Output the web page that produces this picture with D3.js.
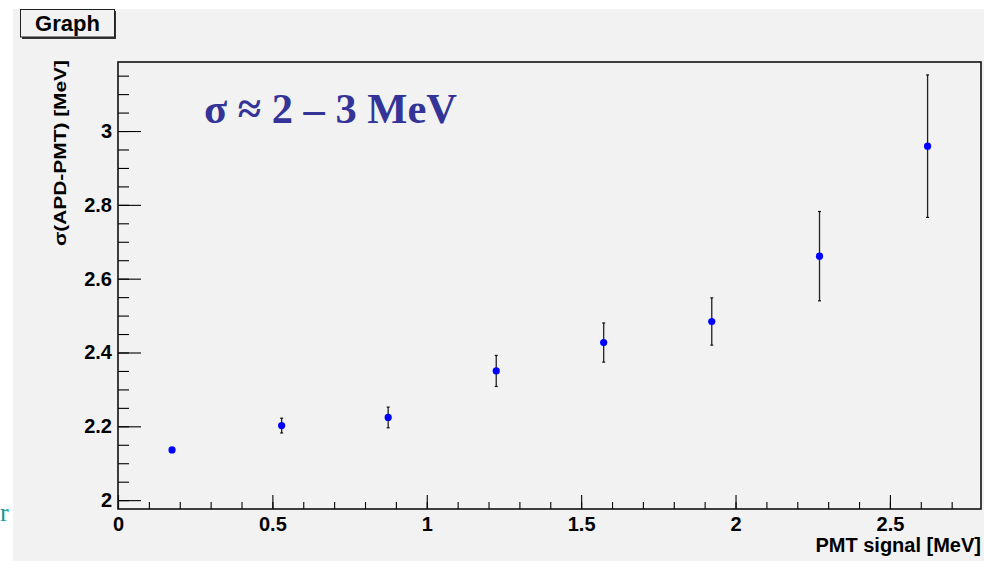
<!DOCTYPE html>
<html>
<head>
<meta charset="utf-8">
<script src="https://cdnjs.cloudflare.com/ajax/libs/d3/7.8.5/d3.min.js"></script>
<style>
  body { margin: 0; background: #fff; }
  svg { display: block; }
  .domain { display: none; }
</style>
</head>
<body>
<svg id="chart"></svg>
<script>
// values
var pmtSignal = [0.175, 0.53, 0.875, 1.225, 1.573, 1.923, 2.272, 2.622];
var sigma     = [2.136, 2.202, 2.224, 2.350, 2.427, 2.484, 2.661, 2.959];
var sigmaErr  = [0.005, 0.020, 0.028, 0.042, 0.053, 0.064, 0.121, 0.193];
var xMajorTicks = [0, 0.5, 1, 1.5, 2, 2.5];
var xMinorTicks = d3.range(0, 28).map(function (i) { return i / 10; });
var yMajorTicks = [2, 2.2, 2.4, 2.6, 2.8, 3];
var yMinorTicks = d3.range(40, 64).map(function (i) { return i / 20; });

var svgWidth = 984;
var svgHeight = 561;
var frame = { left: 118, top: 62, right: 981, bottom: 509 };
var sansFont = "Liberation Sans, Arial, sans-serif";
var serifFont = "Liberation Serif, Times New Roman, serif";

var svg = d3.select("#chart")
  .attr("width", svgWidth)
  .attr("height", svgHeight);

// pad background
svg.append("rect")
  .attr("x", 13).attr("y", 9)
  .attr("width", svgWidth - 13).attr("height", svgHeight - 9)
  .attr("fill", "#f2f2f2");

var xScale = d3.scaleLinear()
  .domain([0, 2.795])
  .range([frame.left, frame.right]);

var yScale = d3.scaleLinear()
  .domain([1.976, 3.187])
  .range([frame.bottom, frame.top]);

// x axis: minor ticks, then major ticks with labels
svg.append("g")
  .attr("transform", "translate(0," + frame.bottom + ")")
  .call(d3.axisBottom(xScale).tickValues(xMinorTicks).tickSize(-7).tickFormat(""));

svg.append("g")
  .attr("class", "labels")
  .attr("transform", "translate(0," + frame.bottom + ")")
  .call(d3.axisBottom(xScale).tickValues(xMajorTicks).tickSize(-14).tickPadding(8).tickFormat(d3.format("")));

// y axis
svg.append("g")
  .attr("transform", "translate(" + frame.left + ",0)")
  .call(d3.axisLeft(yScale).tickValues(yMinorTicks).tickSize(-11).tickFormat(""));

svg.append("g")
  .attr("class", "labels")
  .attr("transform", "translate(" + frame.left + ",0)")
  .call(d3.axisLeft(yScale).tickValues(yMajorTicks).tickSize(-23).tickPadding(6).tickFormat(d3.format("")));

svg.selectAll(".tick line").attr("stroke", "#000").attr("stroke-width", 1.1);
svg.selectAll(".labels text")
  .style("font-family", sansFont)
  .style("font-weight", "bold")
  .style("font-size", "20px")
  .attr("fill", "#000");

// frame
svg.append("rect")
  .attr("x", frame.left).attr("y", frame.top)
  .attr("width", frame.right - frame.left).attr("height", frame.bottom - frame.top)
  .attr("fill", "none")
  .attr("stroke", "#111")
  .attr("stroke-width", 1.6);

// error bars
var points = pmtSignal.map(function (x, i) { return { x: x, y: sigma[i], e: sigmaErr[i] }; });

svg.selectAll(".err")
  .data(points)
  .enter()
  .append("line")
  .attr("class", "err")
  .attr("x1", function (d) { return xScale(d.x); })
  .attr("x2", function (d) { return xScale(d.x); })
  .attr("y1", function (d) { return yScale(d.y - d.e); })
  .attr("y2", function (d) { return yScale(d.y + d.e); })
  .attr("stroke", "#222")
  .attr("stroke-width", 1.3);

svg.selectAll(".cap")
  .data(points.concat(points.map(function (d) { return { x: d.x, y: d.y, e: -d.e }; })))
  .enter()
  .append("line")
  .attr("class", "cap")
  .attr("x1", function (d) { return xScale(d.x) - 1.5; })
  .attr("x2", function (d) { return xScale(d.x) + 1.5; })
  .attr("y1", function (d) { return yScale(d.y + d.e); })
  .attr("y2", function (d) { return yScale(d.y + d.e); })
  .attr("stroke", "#111")
  .attr("stroke-width", 1.2);

// markers
svg.selectAll(".pt")
  .data(points)
  .enter()
  .append("circle")
  .attr("class", "pt")
  .attr("cx", function (d) { return xScale(d.x); })
  .attr("cy", function (d) { return yScale(d.y); })
  .attr("r", 3.6)
  .attr("fill", "#0000ff");

// axis titles
svg.append("text")
  .attr("x", frame.right)
  .attr("y", 552)
  .attr("text-anchor", "end")
  .style("font-family", sansFont)
  .style("font-weight", "bold")
  .style("font-size", "20px")
  .text("PMT signal [MeV]");

svg.append("text")
  .attr("transform", "translate(66,60) rotate(-90)")
  .attr("text-anchor", "end")
  .attr("textLength", 186)
  .attr("lengthAdjust", "spacingAndGlyphs")
  .style("font-family", sansFont)
  .style("font-weight", "bold")
  .style("font-size", "17px")
  .text("σ(APD-PMT) [MeV]");

// annotation
svg.append("text")
  .attr("x", 204)
  .attr("y", 123)
  .style("font-family", serifFont)
  .style("font-weight", "bold")
  .style("font-size", "42.5px")
  .attr("fill", "#343498")
  .text("σ ≈ 2 – 3 MeV");

// title box with shadow
svg.append("rect")
  .attr("x", 22).attr("y", 11)
  .attr("width", 94).attr("height", 28)
  .attr("fill", "#333");
svg.append("rect")
  .attr("x", 20.5).attr("y", 9.5)
  .attr("width", 94).attr("height", 27.5)
  .attr("fill", "#f2f2f2")
  .attr("stroke", "#222")
  .attr("stroke-width", 1);
svg.append("text")
  .attr("x", 67.5)
  .attr("y", 30.5)
  .attr("text-anchor", "middle")
  .style("font-family", sansFont)
  .style("font-weight", "bold")
  .style("font-size", "22px")
  .text("Graph");

// stray letter at the left edge
svg.append("text")
  .attr("x", 0)
  .attr("y", 521)
  .style("font-family", serifFont)
  .style("font-size", "26px")
  .attr("fill", "#129a9a")
  .text("r");
</script>
</body>
</html>
